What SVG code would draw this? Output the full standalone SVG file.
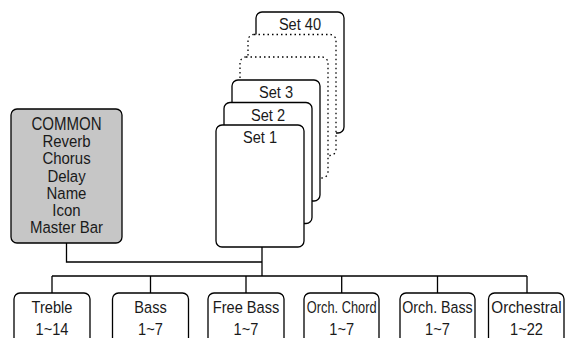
<svg xmlns="http://www.w3.org/2000/svg" width="565" height="338" viewBox="0 0 565 338">
<style>
.card{fill:#fff;stroke:#000;stroke-width:1.3}
.dot{fill:#fff;stroke:#000;stroke-width:1.3;stroke-dasharray:1.5 3}
.box{fill:#fff;stroke:#000;stroke-width:1.3}
.common{fill:#c6c6c6;stroke:#000;stroke-width:1.3}
.t{font-family:"Liberation Sans",Arial,sans-serif;font-size:17px;fill:#1a1a1a;text-anchor:middle}
.c{font-size:17.5px}
.wire{fill:none;stroke:#000;stroke-width:1.3}
</style>
<rect width="565" height="338" fill="#fff"/>
<g id="set40"><rect class="card" x="256" y="12" width="88" height="121" rx="6"/><text class="t" transform="translate(300 29.5) scale(0.86 1)">Set 40</text></g>
<g id="set39"><rect class="dot" x="248" y="34.5" width="88" height="121" rx="6"/></g>
<g id="set38"><rect class="dot" x="240" y="57" width="88" height="121" rx="6"/></g>
<g id="set3"><rect class="card" x="232" y="80" width="88" height="121" rx="6"/><text class="t" transform="translate(276 98) scale(0.86 1)">Set 3</text></g>
<g id="set2"><rect class="card" x="224" y="102.5" width="88" height="121" rx="6"/><text class="t" transform="translate(268 120.5) scale(0.86 1)">Set 2</text></g>
<g id="set1"><rect class="card" x="216" y="125" width="88" height="122" rx="6"/><text class="t" transform="translate(260 143) scale(0.86 1)">Set 1</text></g>
<g id="common"><rect class="common" x="11" y="109" width="111" height="134" rx="6"/>
<text class="t c" transform="translate(66.5 130) scale(0.86 1)">COMMON</text>
<text class="t" transform="translate(66.5 147.2) scale(0.88 1)">Reverb</text>
<text class="t" transform="translate(66.5 164.3) scale(0.88 1)">Chorus</text>
<text class="t" transform="translate(66.5 181.5) scale(0.88 1)">Delay</text>
<text class="t" transform="translate(66.5 198.7) scale(0.88 1)">Name</text>
<text class="t" transform="translate(66.5 215.8) scale(0.88 1)">Icon</text>
<text class="t" transform="translate(66.5 233) scale(0.88 1)">Master Bar</text></g>
<g id="connectors">
<path class="wire" d="M66.5 243V262H262M262 247V276M52 276H527M52 276V293M150.5 276V293M246 276V293M341.7 276V293M437.5 276V293M527 276V293"/>
</g>
<g id="treble"><rect class="box" x="14" y="293" width="76" height="60" rx="6"/><text class="t" transform="translate(52 313.3) scale(0.86 1)">Treble</text><text class="t" transform="translate(52 335) scale(0.86 1)">1~14</text></g>
<g id="bass"><rect class="box" x="112.5" y="293" width="76" height="60" rx="6"/><text class="t" transform="translate(150.5 313.3) scale(0.86 1)">Bass</text><text class="t" transform="translate(150.5 335) scale(0.86 1)">1~7</text></g>
<g id="freebass"><rect class="box" x="208" y="293" width="76" height="60" rx="6"/><text class="t" transform="translate(246 313.3) scale(0.86 1)">Free Bass</text><text class="t" transform="translate(246 335) scale(0.86 1)">1~7</text></g>
<g id="orchchord"><rect class="box" x="304" y="293" width="75" height="60" rx="6"/><text class="t" transform="translate(341.7 313.3) scale(0.86 1)" textLength="81" lengthAdjust="spacingAndGlyphs">Orch. Chord</text><text class="t" transform="translate(341.7 335) scale(0.86 1)">1~7</text></g>
<g id="orchbass"><rect class="box" x="400" y="293" width="75" height="60" rx="6"/><text class="t" transform="translate(437.5 313.3) scale(0.86 1)" textLength="82" lengthAdjust="spacingAndGlyphs">Orch. Bass</text><text class="t" transform="translate(437.5 335) scale(0.86 1)">1~7</text></g>
<g id="orchestral"><rect class="box" x="488.5" y="293" width="75.5" height="60" rx="6"/><text class="t" transform="translate(526.5 313.3) scale(0.86 1)" textLength="82" lengthAdjust="spacingAndGlyphs">Orchestral</text><text class="t" transform="translate(526.5 335) scale(0.86 1)">1~22</text></g>
</svg>
